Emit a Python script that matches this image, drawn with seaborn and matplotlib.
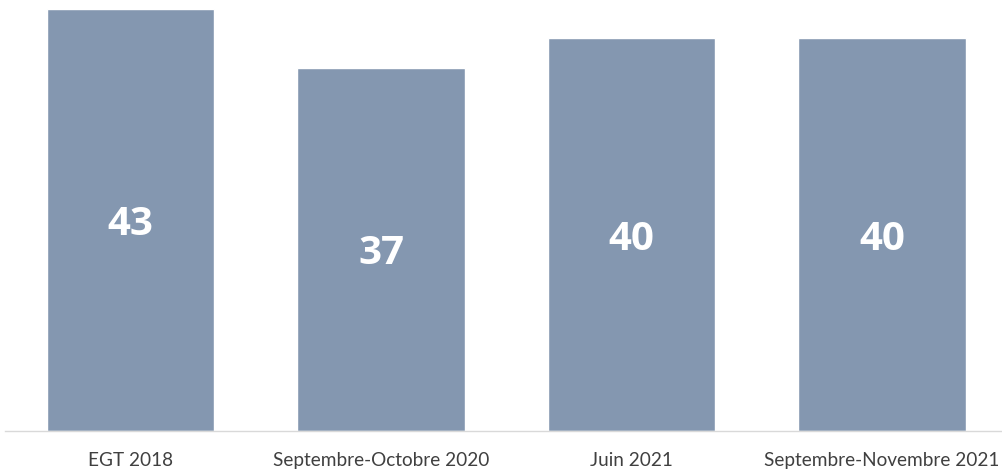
import matplotlib
matplotlib.use("Agg")
import matplotlib.pyplot as plt
import seaborn as sns
import pandas as pd

periods = ["EGT 2018", "Septembre-Octobre 2020", "Juin 2021", "Septembre-Novembre 2021"]
values = [43, 37, 40, 40]

sns.set_theme(style="white")
plt.rcParams["font.family"] = ["Lato", "DejaVu Sans"]

df = pd.DataFrame({"period": periods, "value": values})

fig = plt.figure(figsize=(10.02, 4.69), dpi=100)
ax = fig.add_axes([0.00524, 0.081, 1.0, 0.9])

sns.barplot(data=df, x="period", y="value", color="#8497B0", saturation=1,
            width=0.667, ax=ax)

ax.set_xlim(-0.5, 3.5)
ax.set_ylim(0, 43)
for i, v in enumerate(values):
    ax.text(i, v / 2, str(v), ha="center", va="center_baseline", color="white",
            fontsize=29, fontweight="bold", family=["Open Sans", "DejaVu Sans"])

ax.set_xlabel("")
ax.set_ylabel("")
ax.set_yticks([])
ax.tick_params(axis="x", length=0, labelsize=13.7, labelcolor="#404040", pad=15)
for s in ["top", "left", "right"]:
    ax.spines[s].set_visible(False)
ax.spines["bottom"].set_color("#D9D9D9")
ax.spines["bottom"].set_linewidth(1)

fig.savefig("out.png", dpi=100)
